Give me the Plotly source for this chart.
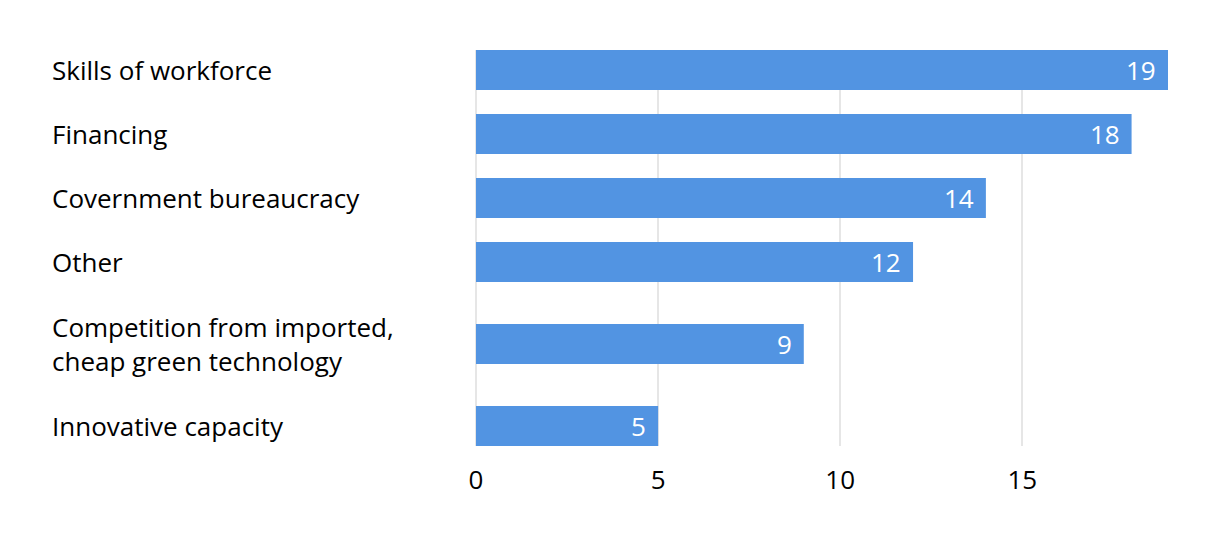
import plotly.graph_objects as go

categories = [
    "Skills of workforce",
    "Financing",
    "Covernment bureaucracy",
    "Other",
    "Competition from imported,<br>cheap green technology",
    "Innovative capacity",
]
values = [19, 18, 14, 12, 9, 5]
tick_vals = [0, 5, 10, 15]
tick_text = ["0", "5", "10", "15"]

FONT = "Open Sans"
FSIZE = 26
BAR_COLOR = "#5294e2"
ROW_BASE = 64
ROW_EXTRA = 36
BAR_W = 40

# compute row centres from label line counts (taller rows for multi-line labels)
centers = []
pos = 0
for c in categories:
    h = ROW_BASE + ROW_EXTRA * (c.count("<br>"))
    centers.append(pos + h / 2)
    pos += h
total = pos
pad = (ROW_BASE - BAR_W) / 2

fig = go.Figure()
fig.add_trace(go.Bar(
    x=values, y=centers, orientation="h", width=BAR_W,
    marker=dict(color=BAR_COLOR, line=dict(width=0)),
    hoverinfo="skip",
))

for c, yc, v in zip(categories, centers, values):
    fig.add_annotation(x=-424 / 692, xref="paper", y=yc, yref="y", text=c,
                       showarrow=False, xanchor="left", yanchor="middle", align="left",
                       xshift=-2,
                       font=dict(family=FONT, size=FSIZE, color="#000000"))
    fig.add_annotation(x=v, xref="x", y=yc, yref="y", text=str(v),
                       showarrow=False, xanchor="right", yanchor="middle", xshift=-10,
                       font=dict(family=FONT, size=FSIZE, color="#ffffff"))

fig.update_layout(
    width=1212, height=538,
    margin=dict(l=468, r=52, t=42, b=100),
    paper_bgcolor="white", plot_bgcolor="white",
    showlegend=False,
    font=dict(family=FONT, size=FSIZE, color="#000000"),
    xaxis=dict(range=[0, 19], tickvals=tick_vals, ticktext=tick_text,
               showgrid=True, gridcolor="#e6e6e6", gridwidth=2,
               zeroline=True, zerolinecolor="#e6e6e6", zerolinewidth=2,
               showline=False, ticks="", ticklabelstandoff=16,
               tickfont=dict(family=FONT, size=FSIZE, color="#000000")),
    yaxis=dict(range=[total - pad, pad], showticklabels=False, showgrid=False,
               zeroline=False, showline=False, ticks=""),
)

fig.write_html("out.html")
